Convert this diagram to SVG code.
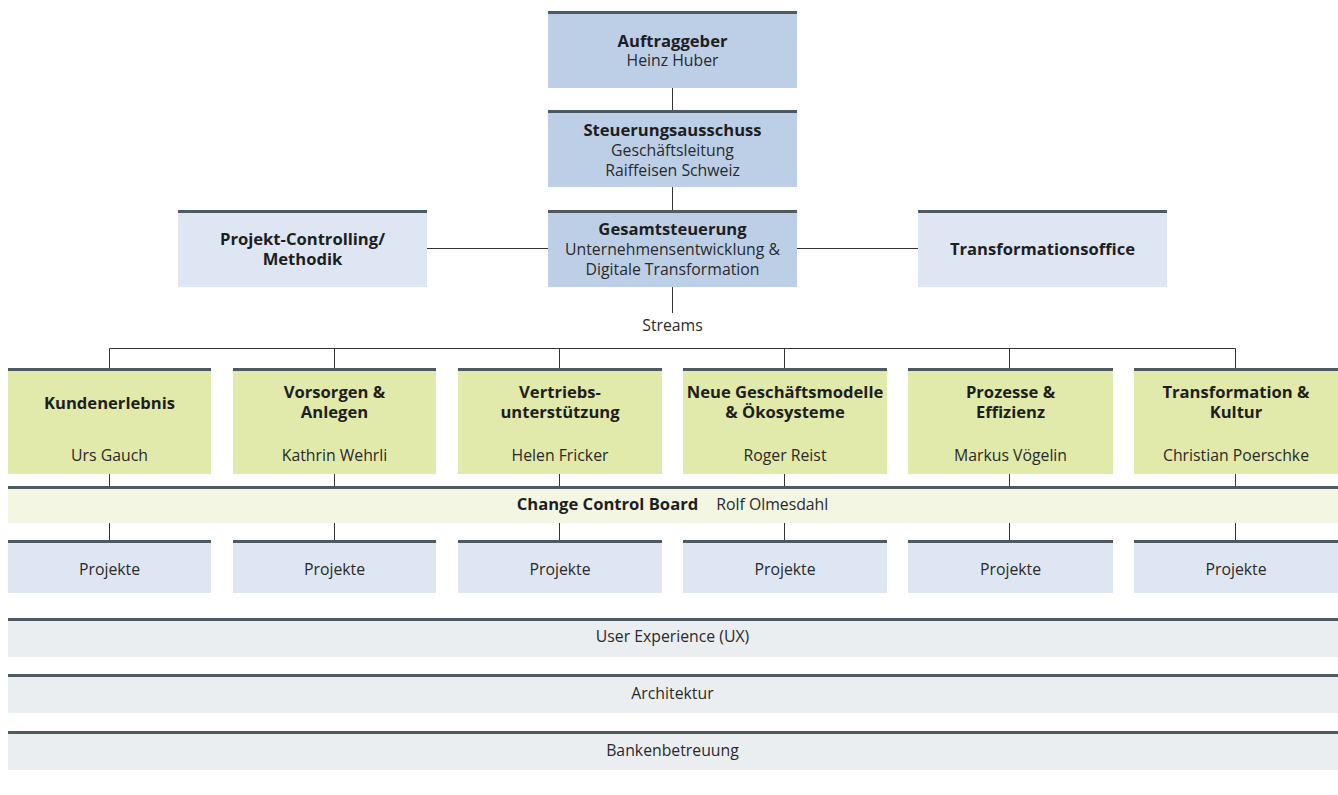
<svg xmlns="http://www.w3.org/2000/svg" width="1338" height="795" viewBox="0 0 1338 795">
<style>
text{font-family:"Open Sans","Noto Sans","Liberation Sans",sans-serif;fill:#2a2a2a;text-anchor:middle;font-size:15.8px}
.b{font-weight:bold;font-size:16.6px;fill:#1e1e1e}
.dark{fill:#bccfe7}
.light{fill:#dde6f2}
.green{fill:#e1e9ab}
.ccb{fill:#f2f6e2}
.grey{fill:#ebeef1}
.top{stroke:#4e5a62;stroke-width:3}
.conn{stroke:#333;stroke-width:1;fill:none}
</style>
<g id="connectors" class="conn">
<line x1="672.5" y1="88" x2="672.5" y2="110"/>
<line x1="672.5" y1="187" x2="672.5" y2="210"/>
<line x1="427" y1="248.5" x2="548" y2="248.5"/>
<line x1="797" y1="248.5" x2="918" y2="248.5"/>
<line x1="672.5" y1="287" x2="672.5" y2="313"/>
<path d="M109.5 368V348.5H1235.5V368M334.5 348.5V368M559.5 348.5V368M784.5 348.5V368M1009.5 348.5V368"/>
<path d="M109.5 474V486M334.5 474V486M559.5 474V486M784.5 474V486M1009.5 474V486M1235.5 474V486"/>
<path d="M109.5 523V540M334.5 523V540M559.5 523V540M784.5 523V540M1009.5 523V540M1235.5 523V540"/>
</g>
<g id="auftraggeber"><rect class="dark" x="548" y="11" width="249" height="77"/><line class="top" x1="548" y1="12.5" x2="797" y2="12.5"/><text class="b" x="672.5" y="47">Auftraggeber</text><text x="672.5" y="66">Heinz Huber</text></g>
<g id="steuerungsausschuss"><rect class="dark" x="548" y="110" width="249" height="77"/><line class="top" x1="548" y1="111.5" x2="797" y2="111.5"/><text class="b" x="672.5" y="136">Steuerungsausschuss</text><text x="672.5" y="156">Geschäftsleitung</text><text x="672.5" y="176">Raiffeisen Schweiz</text></g>
<g id="gesamtsteuerung"><rect class="dark" x="548" y="210" width="249" height="77"/><line class="top" x1="548" y1="211.5" x2="797" y2="211.5"/><text class="b" x="672.5" y="235">Gesamtsteuerung</text><text x="672.5" y="255">Unternehmensentwicklung &amp;</text><text x="672.5" y="275">Digitale Transformation</text></g>
<g id="projekt-controlling"><rect class="light" x="178" y="210" width="249" height="77"/><line class="top" x1="178" y1="211.5" x2="427" y2="211.5"/><text class="b" x="302.5" y="245">Projekt-Controlling/</text><text class="b" x="302.5" y="265">Methodik</text></g>
<g id="transformationsoffice"><rect class="light" x="918" y="210" width="249" height="77"/><line class="top" x1="918" y1="211.5" x2="1167" y2="211.5"/><text class="b" x="1042.5" y="255">Transformationsoffice</text></g>
<g id="streams-label"><text x="672.5" y="331">Streams</text></g>
<g id="stream-kundenerlebnis"><rect class="green" x="8" y="368" width="203" height="106"/><line class="top" x1="8" y1="369.5" x2="211" y2="369.5"/><text class="b" x="109.5" y="409">Kundenerlebnis</text><text x="109.5" y="461">Urs Gauch</text></g>
<g id="stream-vorsorgen"><rect class="green" x="233" y="368" width="203" height="106"/><line class="top" x1="233" y1="369.5" x2="436" y2="369.5"/><text class="b" x="334.5" y="398">Vorsorgen &amp;</text><text class="b" x="334.5" y="418">Anlegen</text><text x="334.5" y="461">Kathrin Wehrli</text></g>
<g id="stream-vertrieb"><rect class="green" x="458" y="368" width="204" height="106"/><line class="top" x1="458" y1="369.5" x2="662" y2="369.5"/><text class="b" x="560" y="398">Vertriebs-</text><text class="b" x="560" y="418">unterstützung</text><text x="560" y="461">Helen Fricker</text></g>
<g id="stream-geschaeftsmodelle"><rect class="green" x="683" y="368" width="204" height="106"/><line class="top" x1="683" y1="369.5" x2="887" y2="369.5"/><text class="b" x="785" y="398">Neue Geschäftsmodelle</text><text class="b" x="785" y="418">&amp; Ökosysteme</text><text x="785" y="461">Roger Reist</text></g>
<g id="stream-prozesse"><rect class="green" x="908" y="368" width="205" height="106"/><line class="top" x1="908" y1="369.5" x2="1113" y2="369.5"/><text class="b" x="1010.5" y="398">Prozesse &amp;</text><text class="b" x="1010.5" y="418">Effizienz</text><text x="1010.5" y="461">Markus Vögelin</text></g>
<g id="stream-transformation"><rect class="green" x="1134" y="368" width="204" height="106"/><line class="top" x1="1134" y1="369.5" x2="1338" y2="369.5"/><text class="b" x="1236" y="398">Transformation &amp;</text><text class="b" x="1236" y="418">Kultur</text><text x="1236" y="461">Christian Poerschke</text></g>
<g id="change-control-board"><rect class="ccb" x="8" y="486" width="1330" height="37"/><line class="top" x1="8" y1="487.5" x2="1338" y2="487.5"/><text x="672.5" y="510"><tspan class="b">Change Control Board</tspan><tspan dx="18">Rolf Olmesdahl</tspan></text></g>
<g id="projekte-1"><rect class="light" x="8" y="540" width="203" height="53"/><line class="top" x1="8" y1="541.5" x2="211" y2="541.5"/><text x="109.5" y="575">Projekte</text></g>
<g id="projekte-2"><rect class="light" x="233" y="540" width="203" height="53"/><line class="top" x1="233" y1="541.5" x2="436" y2="541.5"/><text x="334.5" y="575">Projekte</text></g>
<g id="projekte-3"><rect class="light" x="458" y="540" width="204" height="53"/><line class="top" x1="458" y1="541.5" x2="662" y2="541.5"/><text x="560" y="575">Projekte</text></g>
<g id="projekte-4"><rect class="light" x="683" y="540" width="204" height="53"/><line class="top" x1="683" y1="541.5" x2="887" y2="541.5"/><text x="785" y="575">Projekte</text></g>
<g id="projekte-5"><rect class="light" x="908" y="540" width="205" height="53"/><line class="top" x1="908" y1="541.5" x2="1113" y2="541.5"/><text x="1010.5" y="575">Projekte</text></g>
<g id="projekte-6"><rect class="light" x="1134" y="540" width="204" height="53"/><line class="top" x1="1134" y1="541.5" x2="1338" y2="541.5"/><text x="1236" y="575">Projekte</text></g>
<g id="ux"><rect class="grey" x="8" y="618" width="1330" height="39"/><line class="top" x1="8" y1="619.5" x2="1338" y2="619.5"/><text x="672.5" y="642">User Experience (UX)</text></g>
<g id="architektur"><rect class="grey" x="8" y="674" width="1330" height="39"/><line class="top" x1="8" y1="675.5" x2="1338" y2="675.5"/><text x="672.5" y="699">Architektur</text></g>
<g id="bankenbetreuung"><rect class="grey" x="8" y="731" width="1330" height="39"/><line class="top" x1="8" y1="732.5" x2="1338" y2="732.5"/><text x="672.5" y="756">Bankenbetreuung</text></g>
</svg>
